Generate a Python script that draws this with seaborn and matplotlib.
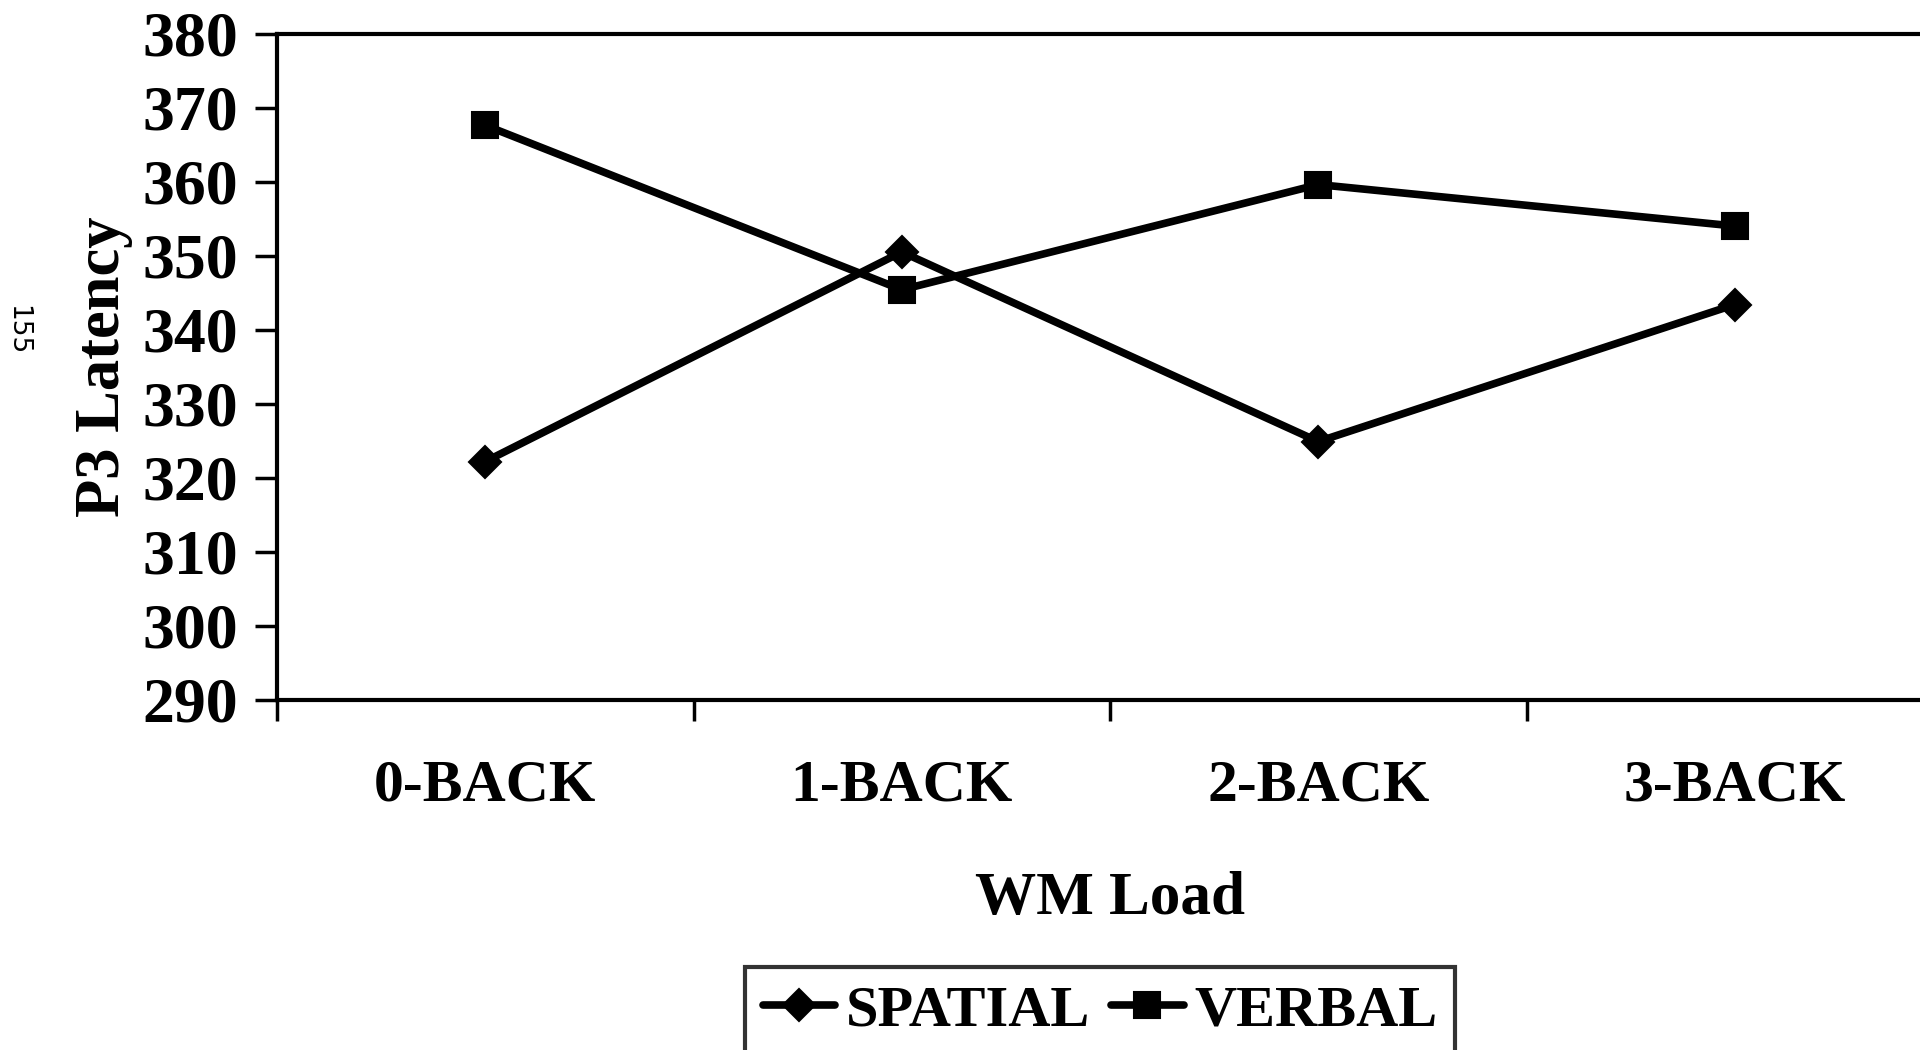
import numpy as np
import matplotlib
matplotlib.use("Agg")
import matplotlib.pyplot as plt
import seaborn as sns
import pandas as pd

loads = ["0-BACK", "1-BACK", "2-BACK", "3-BACK"]
tasks = ["SPATIAL", "VERBAL"]
spatial = [322.2, 350.5, 324.9, 343.4]
verbal = [367.6, 345.4, 359.6, 354.0]

df = pd.DataFrame({
    "load": loads * 2,
    "task": [tasks[0]] * 4 + [tasks[1]] * 4,
    "latency": spatial + verbal,
})

sns.set_theme(style="white", rc={"text.color": "black", "axes.labelcolor": "black",
                                 "xtick.color": "black", "ytick.color": "black"})
plt.rcParams["font.family"] = ["Liberation Serif", "DejaVu Serif"]
plt.rcParams["font.weight"] = "bold"
fs = 43

fig = plt.figure(figsize=(19.2, 10.5), dpi=100)
ax = fig.add_axes([277/1920, 1 - 700/1050, (1943 - 277)/1920, (700 - 33.5)/1050])

sns.lineplot(data=df, x="load", y="latency", style="task", style_order=tasks,
             markers={"SPATIAL": "D", "VERBAL": "s"}, dashes=False,
             color="black", markeredgecolor="black", markeredgewidth=1.5,
             linewidth=5.5, legend=False, ax=ax)
ax.lines[0].set_markersize(16)
ax.lines[1].set_markersize(19)

ax.set_ylim(290, 380)
ax.set_yticks(np.arange(290, 381, 10))
ax.set_xlim(-0.5, 3.5)
ax.set_xticks(np.arange(len(loads) + 1) - 0.5)
ax.set_xticklabels([""] * (len(loads) + 1))
ax.set_xticks(range(len(loads)), labels=loads, minor=True)

ax.tick_params(axis="y", which="major", direction="out", length=16, width=2.5,
               labelsize=46, pad=12, left=True)
ax.tick_params(axis="x", which="major", direction="out", length=15, width=2.5,
               bottom=True)
ax.tick_params(axis="x", which="minor", length=0, labelsize=fs, pad=43, bottom=True)
for lab in ax.get_yticklabels() + ax.get_xticklabels(minor=True):
    lab.set_fontweight("bold")

for side in ["left", "bottom", "top"]:
    ax.spines[side].set_visible(True)
    ax.spines[side].set_color("black")
    ax.spines[side].set_linewidth(3)
ax.spines["right"].set_visible(False)

ax.set_xlabel("WM Load", fontsize=44, fontweight="bold", labelpad=41)
ax.set_ylabel("P3 Latency", fontsize=45, fontweight="bold", labelpad=7)

leg = fig.legend(handles=ax.lines[:2], labels=tasks, loc="upper left",
                 bbox_to_anchor=(745/1920, 1 - 967/1050), ncol=2,
                 prop={"family": "Liberation Serif", "weight": "bold", "size": 42},
                 frameon=True, fancybox=False, edgecolor="black",
                 handlelength=1.25, handletextpad=0.18, columnspacing=0.35,
                 borderpad=0.3, borderaxespad=0)
leg.get_frame().set_linewidth(3)

fig.text(17/1920, 1 - 330/1050, "155", rotation=-90, fontsize=19,
         fontweight="normal", family="DejaVu Sans", ha="center", va="center")

fig.savefig("out.png", dpi=100, facecolor="white")
